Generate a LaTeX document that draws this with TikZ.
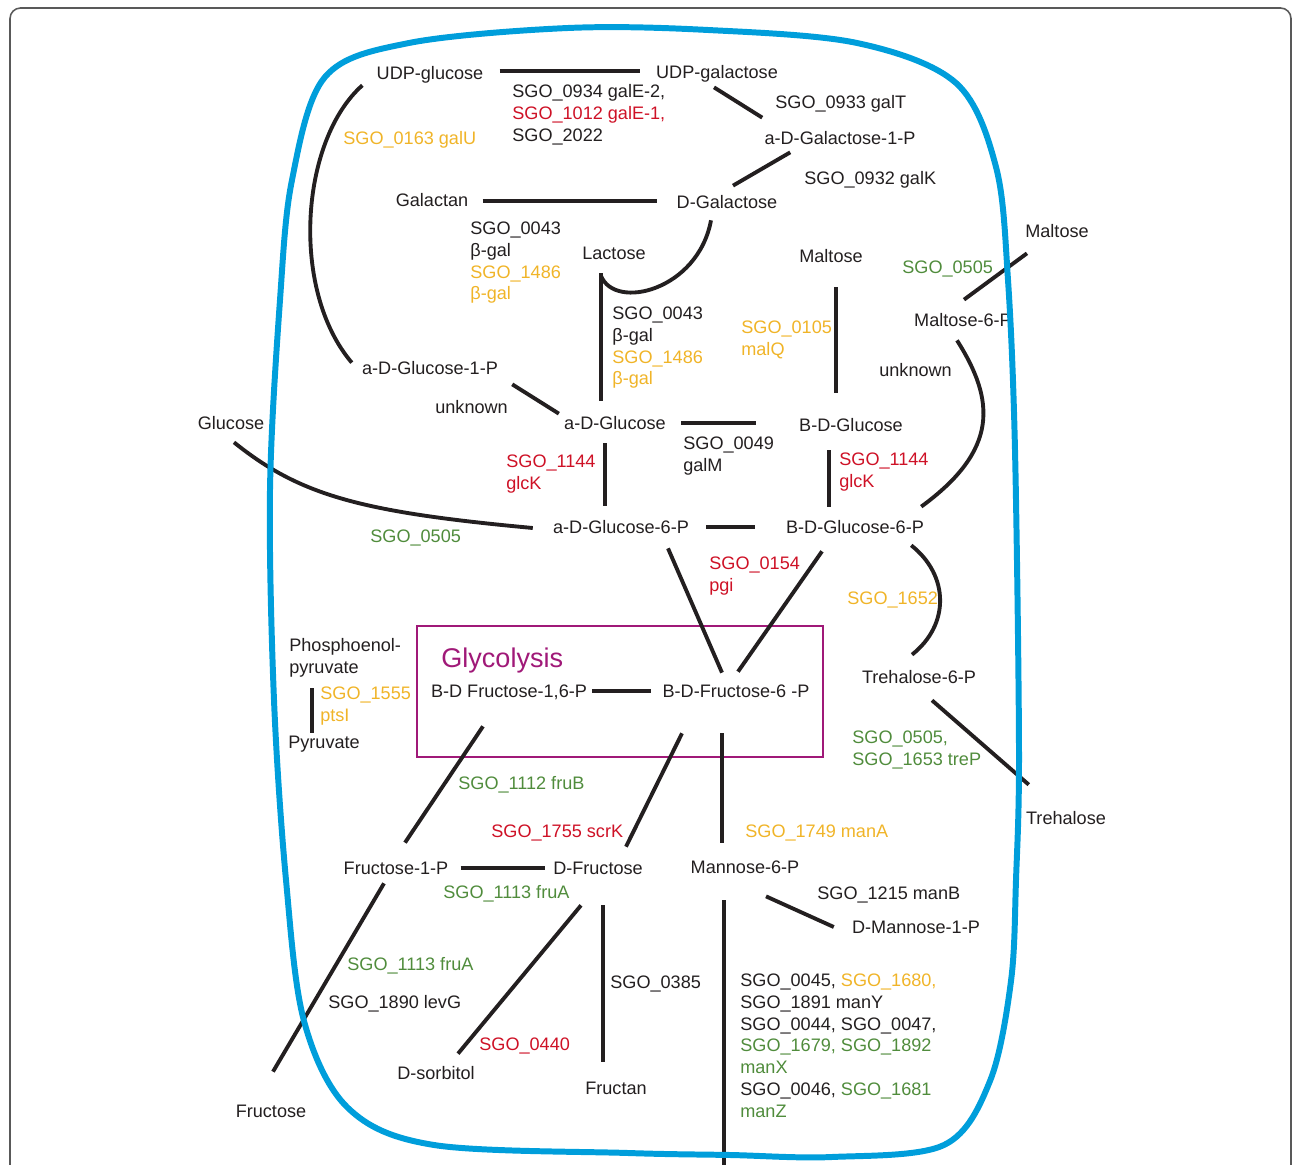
\documentclass[tikz,border=0pt]{standalone}
\usepackage{fontspec}
\setmainfont{Liberation Sans}
\usetikzlibrary{calc}
\definecolor{ink}{RGB}{35,31,32}
\definecolor{gold}{RGB}{240,180,40}
\definecolor{crimson}{RGB}{206,17,38}
\definecolor{leaf}{RGB}{80,140,60}
\definecolor{membrane}{RGB}{0,158,219}
\definecolor{glyco}{RGB}{160,25,120}
\tikzset{
  met/.style={inner sep=0pt, text height=7.4pt, text depth=0pt, text=ink},
  gene/.style={inner sep=0pt, anchor=north west, align=left, text=ink},
  rx/.style={line width=2.2pt, draw=ink},
}
\begin{document}
\begin{tikzpicture}[x=0.02cm,y=-0.02cm,every node/.style={font=\fontsize{10.3pt}{12.4pt}\selectfont}]
	\useasboundingbox (0,0) rectangle (1292,1165);
	\draw[gray!70!black,line width=0.9pt,rounded corners=6pt] (10,1175) -- (10,8) -- (1291,8) -- (1291,1175);
	\node[met] (udpglc) at (430,73) {UDP-glucose};
	\node[met] (udpgal) at (717,72) {UDP-galactose};
	\node[met] (galp) at (840,138) {a-D-Galactose-1-P};
	\node[met] (galactan) at (432,200) {Galactan};
	\node[met] (dgal) at (727,202) {D-Galactose};
	\node[met] (lac) at (614,253) {Lactose};
	\node[met] (mal) at (831,256) {Maltose};
	\node[met] (malout) at (1057,231) {Maltose};
	\node[met] (mal6p) at (963,320) {Maltose-6-P};
	\node[met] (ag1p) at (430,368) {a-D-Glucose-1-P};
	\node[met] (aglc) at (615,423) {a-D-Glucose};
	\node[met] (bglc) at (851,425) {B-D-Glucose};
	\node[met] (glc) at (231,423) {Glucose};
	\node[met] (ag6p) at (621,527) {a-D-Glucose-6-P};
	\node[met] (bg6p) at (855,527) {B-D-Glucose-6-P};
	\node[met] (t6p) at (919,677) {Trehalose-6-P};
	\node[met] (tre) at (1066,818) {Trehalose};
	\node[met] (f16p) at (509,691) {B-D Fructose-1,6-P};
	\node[met] (f6p) at (736,691) {B-D-Fructose-6 -P};
	\node[gene] (pep) at (289,638) {Phosphoenol-\\pyruvate};
	\node[met] (pyr) at (324,742) {Pyruvate};
	\node[met] (f1p) at (396,868) {Fructose-1-P};
	\node[met] (dfru) at (598,868) {D-Fructose};
	\node[met] (man6p) at (745,867) {Mannose-6-P};
	\node[met] (man1p) at (916,927) {D-Mannose-1-P};
	\node[met] (fru) at (271,1111) {Fructose};
	\node[met] (sorb) at (436,1073) {D-sorbitol};
	\node[met] (fructan) at (616,1088) {Fructan};
	\coordinate (mout) at (724,1175);
	\node[met,anchor=west,text=glyco,font=\fontsize{15.4pt}{18pt}\selectfont,text height=11pt] (glytitle) at (441,658) {Glycolysis};
	\draw[glyco,line width=1.4pt] (417,626) rectangle (823,757);
	\node[gene] (galE) at (512,84.5) {SGO\_0934 galE-2,\\\textcolor{crimson}{SGO\_1012 galE-1,}\\SGO\_2022};
	\node[gene] (galT) at (775,95.5) {SGO\_0933 galT};
	\node[gene,text=gold] (galU) at (343,131.5) {SGO\_0163 galU};
	\node[gene] (galK) at (804,171.5) {SGO\_0932 galK};
	\node[gene] (bgalA) at (470,221.5) {SGO\_0043\\β-gal\\\textcolor{gold}{SGO\_1486}\\\textcolor{gold}{β-gal}};
	\node[gene] (bgalB) at (612,306.5) {SGO\_0043\\β-gal\\\textcolor{gold}{SGO\_1486}\\\textcolor{gold}{β-gal}};
	\node[gene,text=gold] (malQ) at (741,320.5) {SGO\_0105\\malQ};
	\node[gene,text=leaf] (malT) at (902,260.5) {SGO\_0505};
	\node[gene] (unkA) at (879,363.5) {unknown};
	\node[gene] (unkB) at (435,400.5) {unknown};
	\node[gene] (galM) at (683,436.5) {SGO\_0049\\galM};
	\node[gene,text=crimson] (glcKA) at (506,454.5) {SGO\_1144\\glcK};
	\node[gene,text=crimson] (glcKB) at (839,452.5) {SGO\_1144\\glcK};
	\node[gene,text=leaf] (glcT) at (370,529.5) {SGO\_0505};
	\node[gene,text=crimson] (pgi) at (709,556.5) {SGO\_0154\\pgi};
	\node[gene,text=gold] (treC) at (847,591.5) {SGO\_1652};
	\node[gene,text=leaf] (treP) at (852,730.5) {SGO\_0505,\\SGO\_1653 treP};
	\node[gene,text=gold] (ptsI) at (320,686.5) {SGO\_1555\\ptsI};
	\node[gene,text=leaf] (fruB) at (458,776.5) {SGO\_1112 fruB};
	\node[gene,text=crimson] (scrK) at (491,824.5) {SGO\_1755 scrK};
	\node[gene,text=gold] (manA) at (745,824.5) {SGO\_1749 manA};
	\node[gene,text=leaf] (fruAA) at (443,885.5) {SGO\_1113 fruA};
	\node[gene] (manB) at (817,886.5) {SGO\_1215 manB};
	\node[gene,text=leaf] (fruAB) at (347,957.5) {SGO\_1113 fruA};
	\node[gene] (levG) at (328,995.5) {SGO\_1890 levG};
	\node[gene,text=crimson] (sorD) at (479,1037.5) {SGO\_0440};
	\node[gene] (sacA) at (610,975.5) {SGO\_0385};
	\node[gene] (manXYZ) at (740,973.5) {SGO\_0045, \textcolor{gold}{SGO\_1680,}\\SGO\_1891 manY\\SGO\_0044, SGO\_0047,\\\textcolor{leaf}{SGO\_1679, SGO\_1892}\\\textcolor{leaf}{manX}\\SGO\_0046, \textcolor{leaf}{SGO\_1681}\\\textcolor{leaf}{manZ}};
	\draw[rx] ($(udpglc.east)+(16,-2)$) -- ($(udpgal.west)+(-16,-1)$);
	\draw[rx] ($(udpgal.south)+(-3,8.5)$) -- ($(galp.north west)+(-2,-13.5)$);
	\draw[rx] ($(dgal.north)+(6,-9.5)$) -- ($(galp.south west)+(26,7.5)$);
	\draw[rx] ($(galactan.east)+(14,1)$) -- ($(dgal.west)+(-19,-1)$);
	\draw[rx] ($(dgal.south)+(-16,11.5)$) .. controls +(-13,70) and +(14,35) .. ($(lac.south)+(-13,16)$);
	\draw[rx] ($(lac.south)+(-13,13.5)$) -- ($(aglc.north)+(-14,-15.5)$);
	\draw[rx] ($(mal.south)+(5,24.5)$) -- ($(bglc.north)+(-15,-25.5)$);
	\draw[rx] ($(malout.south west)+(2,15.5)$) -- ($(mal6p.north)+(1,-13.5)$);
	\draw[rx] ($(mal6p.south)+(-6,13.5)$) .. controls +(38,60) and +(78,-57) .. ($(bg6p.north east)+(-3,-13.5)$);
	\draw[rx] ($(udpglc.south west)+(-14,5.5)$) .. controls +(-62,55) and +(-62,-73) .. ($(ag1p.north west)+(-10,1.5)$);
	\draw[rx] ($(ag1p.south east)+(14,9.5)$) -- ($(aglc.north west)+(-5,-2.5)$);
	\draw[rx] ($(aglc.east)+(15,0)$) -- ($(bglc.west)+(-43,-2)$);
	\draw[rx] ($(glc.south)+(3,12.5)$) .. controls +(66,53) and +(-173,-16) .. ($(ag6p.west)+(-20,1)$);
	\draw[rx] ($(aglc.south)+(-10,13.5)$) -- ($(ag6p.north)+(-16,-14.5)$);
	\draw[rx] ($(bglc.south)+(-22,18.5)$) -- ($(bg6p.north)+(-26,-13.5)$);
	\draw[rx] ($(ag6p.east)+(17,0)$) -- ($(bg6p.west)+(-31,0)$);
	\draw[rx] ($(ag6p.south)+(47,14.5)$) -- ($(f6p.north)+(-14,-11.5)$);
	\draw[rx] ($(bg6p.south)+(-33,17.5)$) -- ($(f6p.north)+(2,-12.5)$);
	\draw[rx] ($(bg6p.south east)+(-13,11.5)$) .. controls +(38,30) and +(38,-30) .. ($(t6p.north)+(-7,-15.5)$);
	\draw[rx] ($(t6p.south)+(13,16.5)$) -- ($(tre.north west)+(3,-26.5)$);
	\draw[rx] ($(f16p.east)+(5,0)$) -- ($(f6p.west)+(-11,0)$);
	\draw[rx] ($(pep.south west)+(23,11)$) -- ($(pyr.north)+(-12,-2.5)$);
	\draw[rx] ($(f16p.south)+(-26,28.5)$) -- ($(f1p.north)+(9,-18.5)$);
	\draw[rx] ($(f6p.south)+(-54,35.5)$) -- ($(dfru.north)+(28,-14.5)$);
	\draw[rx] ($(f6p.south)+(-14,35.5)$) -- ($(man6p.north)+(-23,-17.5)$);
	\draw[rx] ($(f1p.east)+(12,0)$) -- ($(dfru.west)+(-8,0)$);
	\draw[rx] ($(man6p.south)+(21,22.5)$) -- ($(man1p.west)+(-18,0)$);
	\draw[rx] ($(f1p.south)+(-12,8.5)$) -- ($(fru.north)+(2,-32.5)$);
	\draw[rx] ($(dfru.south)+(-17,30.5)$) -- ($(sorb.north)+(22,-12.5)$);
	\draw[rx] ($(dfru.south)+(5,30.5)$) -- ($(fructan.north)+(-13,-19.5)$);
	\draw[rx] ($(man6p.south)+(-21,26.5)$) -- (mout);
	\draw[membrane,line width=3.4pt] plot[smooth cycle,tension=0.55] coordinates {(325,77) (409,43) (568,28) (708,30) (857,43) (956,83) (996,167) (1008,280) (1015,450) (1019,750) (1016,880) (1011,981) (990,1081) (944,1145) (832,1157) (730,1155) (628,1153) (434,1145) (348,1108) (304,1021) (286,880) (274,700) (270,490) (280,300) (292,180)};
\end{tikzpicture}
\end{document}
